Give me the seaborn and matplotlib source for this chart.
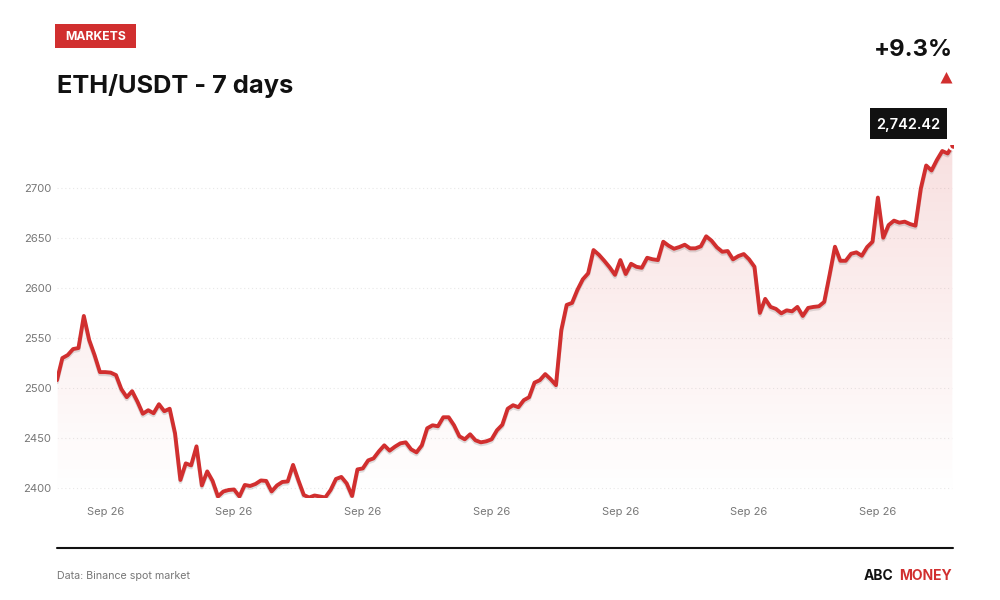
import numpy as np
import pandas as pd
import seaborn as sns
import matplotlib.pyplot as plt
import matplotlib.patheffects as pe
from matplotlib.patches import Polygon, Rectangle
from matplotlib.colors import LinearSegmentedColormap

# hourly closes
prices = [
    2508, 2530, 2533, 2539, 2540, 2572, 2548, 2533, 2516, 2516, 2515.5, 2513,
    2499, 2491, 2497, 2486.5, 2474.5, 2478, 2475, 2484, 2477, 2479.5, 2455, 2408.5,
    2425, 2423, 2442, 2403, 2417, 2407.5, 2392, 2397, 2398.5, 2399, 2392, 2403.5,
    2402.5, 2404.5, 2408, 2407.5, 2397, 2403, 2406.5, 2407, 2423.5, 2408, 2393.5, 2391,
    2393, 2392, 2391, 2398.5, 2409.5, 2411.5, 2405, 2392.5, 2419, 2420, 2428, 2430,
    2437, 2443, 2437.7, 2441.7, 2445, 2446, 2439, 2436, 2443, 2460, 2463, 2462,
    2471, 2471, 2463, 2452, 2449, 2454, 2448, 2446, 2447, 2449, 2458, 2463.5,
    2479.5, 2483, 2481, 2488, 2491, 2505.5, 2508, 2514, 2509, 2503, 2558, 2583,
    2585, 2598, 2608.5, 2614.5, 2637.7, 2633, 2627, 2620.5, 2613, 2627.7, 2613.8, 2624,
    2621, 2620, 2630, 2628.5, 2627.7, 2646, 2642, 2639, 2640.7, 2643, 2639.4, 2639.4,
    2641.4, 2651.4, 2647, 2640.4, 2636, 2636.7, 2628.4, 2631.7, 2633.7, 2628.4, 2621, 2575,
    2589, 2581, 2579, 2574.6, 2577.6, 2576.6, 2581, 2572, 2580, 2581, 2581.6, 2586,
    2613, 2641, 2627, 2627, 2634, 2635.4, 2632, 2640.7, 2646, 2690, 2650, 2662.6,
    2667, 2665, 2666, 2663.6, 2662, 2699, 2722, 2717, 2727.5, 2736.4, 2734, 2742.42,
]
hours = list(range(len(prices)))
tick_hours = [9, 33, 57, 81, 105, 129, 153]
tick_labels = ["Sep 26"] * 7
y_ticks = [2400, 2450, 2500, 2550, 2600, 2650, 2700]

RED = "#d12f2f"
INK = "#111111"
GREY = "#777777"

sns.set_theme(style="white")
plt.rcParams['font.family'] = ['Inter', 'DejaVu Sans']

W, H = 1000, 600
fig = plt.figure(figsize=(W / 100, H / 100), dpi=100, facecolor="white")


def fig_x(px):
    return px / W


def fig_y(px):
    return 1 - px / H


ax = fig.add_axes([fig_x(57), fig_y(497.5), (953 - 57) / W, (497.5 - 145) / H])
df = pd.DataFrame({"hour": hours, "price": prices})

ymin, ymax = 2391, 2742.42
ax.set_xlim(0, len(prices) - 1)
ax.set_ylim(ymin, ymax)

# vertical gradient under the line
cmap = LinearSegmentedColormap.from_list("fade", [(0.82, 0.18, 0.18, 0.15), (0.82, 0.18, 0.18, 0.0)])
grad = np.linspace(0, 1, 256).reshape(-1, 1)
img = ax.imshow(grad, cmap=cmap, aspect="auto", extent=(0, len(prices) - 1, ymin, ymax), origin="upper", zorder=1)
poly = Polygon(list(zip(hours, prices)) + [(hours[-1], ymin), (0, ymin)], transform=ax.transData, facecolor="none")
ax.add_patch(poly)
img.set_clip_path(poly)

sns.lineplot(data=df, x="hour", y="price", color=RED, linewidth=2.8, ax=ax, zorder=3,
             path_effects=[pe.SimpleLineShadow(offset=(0, -1.5), shadow_color="black", alpha=0.12), pe.Normal()])

# end dot, mostly cut off by the plot edge
sns.scatterplot(data=df.tail(1), x="hour", y="price", color=RED, s=40, edgecolor="white", linewidth=1.6, ax=ax, zorder=4)

ax.set_xlabel("")
ax.set_ylabel("")
ax.set_xticks(tick_hours, tick_labels)
ax.set_yticks(y_ticks)
ax.tick_params(axis="x", length=0, pad=6.5, labelsize=8, labelcolor=GREY)
ax.tick_params(axis="y", length=0, pad=4, labelsize=8.1, labelcolor=GREY)
ax.grid(axis="y", color="#e8e8e8", linewidth=0.8, linestyle=(0, (1, 2.5)))
ax.set_axisbelow(True)
sns.despine(ax=ax, left=True, bottom=True)
ax.set_ylim(ymin, ymax)

# header
fig.add_artist(Rectangle((fig_x(55), fig_y(48)), 81 / W, 24 / H, transform=fig.transFigure, color=RED, lw=0))
fig.text(fig_x(96), fig_y(37), "MARKETS", color="white", fontsize=8.8, fontweight="bold", ha="center", va="center")
fig.text(fig_x(57), fig_y(86), "ETH/USDT - 7 days", color=INK, fontsize=18.3, fontweight="bold", ha="left", va="center")
fig.text(fig_x(952.5), fig_y(49.5), "+9.3%", color=INK, fontsize=17.1, fontweight="bold", ha="right", va="center")
fig.add_artist(Polygon([(fig_x(940.5), fig_y(83.5)), (fig_x(952.5), fig_y(83.5)), (fig_x(946.5), fig_y(72))],
                       transform=fig.transFigure, color=RED, lw=0))

# last value tag
fig.add_artist(Rectangle((fig_x(869.5), fig_y(139)), 77 / W, 31 / H, transform=fig.transFigure, color=INK, lw=0))
fig.text(fig_x(908.5), fig_y(124.5), "2,742.42", color="white", fontsize=10.5, fontweight="semibold", ha="center", va="center")

# footer
fig.add_artist(plt.Line2D([fig_x(57), fig_x(953)], [fig_y(547.5)] * 2, color=INK, lw=1.5, transform=fig.transFigure))
fig.text(fig_x(57), fig_y(576), "Data: Binance spot market", color=GREY, fontsize=7.7, ha="left", va="center")
fig.text(fig_x(893.5), fig_y(575.5), "ABC", color=INK, fontsize=10, fontweight="bold", ha="right", va="center")
fig.text(fig_x(951.5), fig_y(575.5), "MONEY", color=RED, fontsize=10, fontweight="bold", ha="right", va="center")

fig.savefig("out.png", dpi=100)
